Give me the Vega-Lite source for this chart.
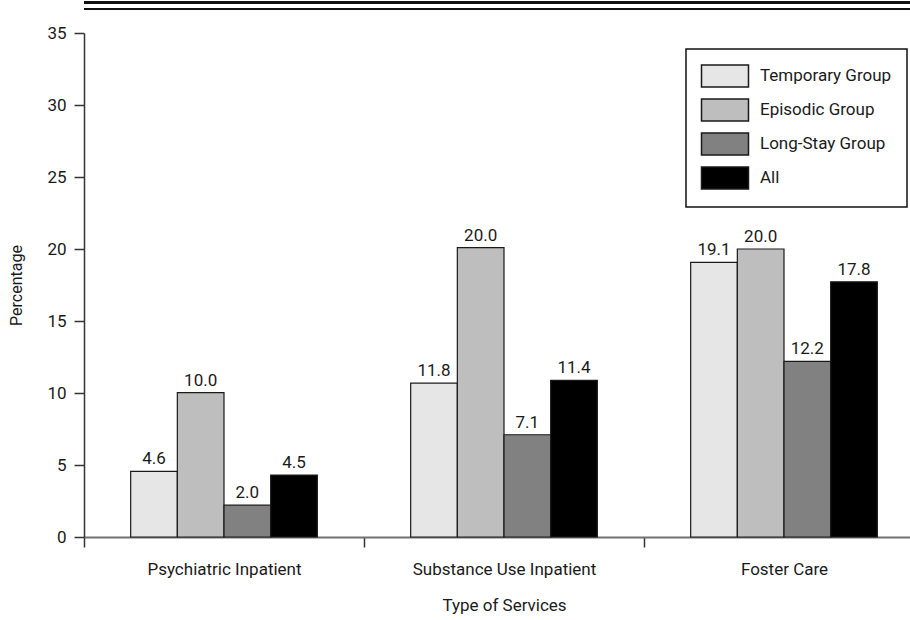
{
  "$schema": "https://vega.github.io/schema/vega-lite/v6.json",
  "width": 826,
  "height": 504,
  "autosize": {"type": "none"},
  "padding": {"left": 84, "top": 33, "right": 0, "bottom": 83},
  "background": "white",
  "config": {
    "font": "Roboto",
    "view": {"stroke": null},
    "axis": {"grid": false, "labelColor": "#1a1a1a", "titleColor": "#1a1a1a", "titleFontWeight": "normal"},
    "legend": {"strokeWidth": 1.5}
  },
  "data": {
    "values": [
      {"service": "Psychiatric Inpatient", "group": "Temporary Group", "pct": 4.56, "label": "4.6"},
      {"service": "Psychiatric Inpatient", "group": "Episodic Group", "pct": 10.03, "label": "10.0"},
      {"service": "Psychiatric Inpatient", "group": "Long-Stay Group", "pct": 2.21, "label": "2.0"},
      {"service": "Psychiatric Inpatient", "group": "All", "pct": 4.3, "label": "4.5"},
      {"service": "Substance Use Inpatient", "group": "Temporary Group", "pct": 10.68, "label": "11.8"},
      {"service": "Substance Use Inpatient", "group": "Episodic Group", "pct": 20.09, "label": "20.0"},
      {"service": "Substance Use Inpatient", "group": "Long-Stay Group", "pct": 7.1, "label": "7.1"},
      {"service": "Substance Use Inpatient", "group": "All", "pct": 10.87, "label": "11.4"},
      {"service": "Foster Care", "group": "Temporary Group", "pct": 19.07, "label": "19.1"},
      {"service": "Foster Care", "group": "Episodic Group", "pct": 20.0, "label": "20.0"},
      {"service": "Foster Care", "group": "Long-Stay Group", "pct": 12.2, "label": "12.2"},
      {"service": "Foster Care", "group": "All", "pct": 17.72, "label": "17.8"}
    ]
  },
  "encoding": {
    "x": {
      "field": "service",
      "type": "nominal",
      "sort": ["Psychiatric Inpatient", "Substance Use Inpatient", "Foster Care"],
      "scale": {"paddingInner": 0, "paddingOuter": 0, "range": [0, 840]},
      "axis": {
        "title": "Type of Services",
        "tickBand": "extent",
        "labelAngle": 0,
        "labelLimit": 400,
        "domainColor": "#707070",
        "domainWidth": 2,
        "tickColor": "#333333",
        "tickWidth": 1.5,
        "tickSize": 10,
        "labelFontSize": 17,
        "labelPadding": 14,
        "titleFontSize": 17,
        "titlePadding": 20
      }
    },
    "xOffset": {
      "field": "group",
      "type": "nominal",
      "sort": ["Temporary Group", "Episodic Group", "Long-Stay Group", "All"],
      "scale": {"paddingInner": 0, "paddingOuter": 1.07}
    },
    "y": {
      "field": "pct",
      "type": "quantitative",
      "scale": {"domain": [0, 35], "nice": false},
      "axis": {
        "title": "Percentage",
        "values": [0, 5, 10, 15, 20, 25, 30, 35],
        "domainColor": "#333333",
        "domainWidth": 1.5,
        "tickColor": "#333333",
        "tickWidth": 1.5,
        "tickSize": 10,
        "labelFontSize": 17,
        "labelPadding": 8,
        "titleFontSize": 16,
        "titlePadding": 22
      }
    }
  },
  "layer": [
    {
      "mark": {"type": "bar", "stroke": "#1a1a1a", "strokeWidth": 1.2},
      "encoding": {
        "color": {
          "field": "group",
          "type": "nominal",
          "scale": {
            "domain": ["Temporary Group", "Episodic Group", "Long-Stay Group", "All"],
            "range": ["#e6e6e6", "#bebebe", "#818181", "#000000"]
          },
          "legend": {
            "orient": "none",
            "legendX": 602,
            "legendY": 16,
            "title": null,
            "strokeColor": "#111111",
            "fillColor": "white",
            "padding": 15,
            "symbolType": "M-2.136,-1H2.136V1H-2.136Z",
            "symbolSize": 484,
            "symbolStrokeColor": "#1a1a1a",
            "symbolStrokeWidth": 1.5,
            "symbolOffset": 12,
            "labelOffset": 23,
            "labelFontSize": 17,
            "labelColor": "#1a1a1a",
            "rowPadding": 6
          }
        }
      }
    },
    {
      "mark": {"type": "text", "dy": -7, "baseline": "alphabetic", "fontSize": 17, "color": "#1a1a1a"},
      "encoding": {"text": {"field": "label"}}
    },
    {
      "mark": {"type": "rule", "color": "#111111", "strokeWidth": 2.2},
      "encoding": {"y": {"datum": 37.12}, "x": null, "xOffset": null}
    },
    {
      "mark": {"type": "rule", "color": "#111111", "strokeWidth": 1.4},
      "encoding": {"y": {"datum": 36.65}, "x": null, "xOffset": null}
    }
  ]
}
